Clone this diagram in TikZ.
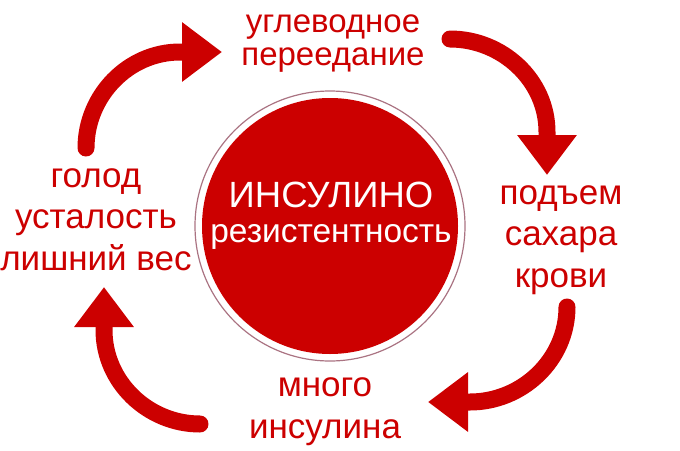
\documentclass[tikz,border=0pt]{standalone}
\usepackage{fontspec}
\setmainfont{Liberation Sans}
\usetikzlibrary{arrows.meta}
\definecolor{insulinred}{RGB}{204,0,0}
\definecolor{ringgrey}{RGB}{170,115,130}
\newcommand{\stepOvereat}{углеводное\\переедание}
\newcommand{\stepSugar}{подъем\\сахара\\крови}
\newcommand{\stepInsulin}{много\\инсулина}
\newcommand{\stepHunger}{голод\\усталость\\лишний вес}

\begin{document}
\begin{tikzpicture}[x=1pt,y=-1pt,
  cyclelabel/.style={text=insulinred,align=center,inner sep=0pt,anchor=base,
    font=\fontsize{35}{41.5}\selectfont},
  cyclearrow/.style={draw=insulinred,line width=17pt,line cap=round,
    -{Triangle[length=40pt,width=57pt]}}]
\useasboundingbox (0,0) rectangle (680,450);

\node[circle,draw=ringgrey,line width=1.2pt,minimum size=270pt] (coreRing) at (330,226) {};
\node[circle,fill=insulinred,minimum size=256pt]                 (coreDisc) at (330,226) {};
\node[cyclelabel,text=white,font=\fontsize{33.5}{35}\selectfont] (core)     at (331,242)
  {{\fontsize{36.5}{35}\selectfont ИНСУЛИНО}\\резистентность};

\node[cyclelabel,font=\fontsize{33}{33}\selectfont] (overeat) at (333, 65) {\stepOvereat};
\node[cyclelabel]                                   (sugar)   at (561,287) {\stepSugar};
\node[cyclelabel]                                   (insulin) at (325,438) {\stepInsulin};
\node[cyclelabel]                                   (hunger)  at ( 96,270) {\stepHunger};

\coordinate (hungerOut)  at ( 86,148);
\coordinate (overeatIn)  at (222, 52);
\coordinate (overeatOut) at (450, 39);
\coordinate (sugarIn)    at (547,175);
\coordinate (sugarOut)   at (567,307);
\coordinate (insulinIn)  at (428,402);
\coordinate (insulinOut) at (200,424);
\coordinate (hungerIn)   at (104,287);

\draw[cyclearrow] (hungerOut)  .. controls ( 86, 96) and (128, 52) .. (180, 52) -- (overeatIn);
\draw[cyclearrow] (overeatOut) .. controls (502, 39) and (547, 80) .. (547,132) -- (sugarIn);
\draw[cyclearrow] (sugarOut)   .. controls (567,360) and (522,402) .. (470,402) -- (insulinIn);
\draw[cyclearrow] (insulinOut) .. controls (148,424) and (104,382) .. (104,330) -- (hungerIn);
\end{tikzpicture}
\end{document}
